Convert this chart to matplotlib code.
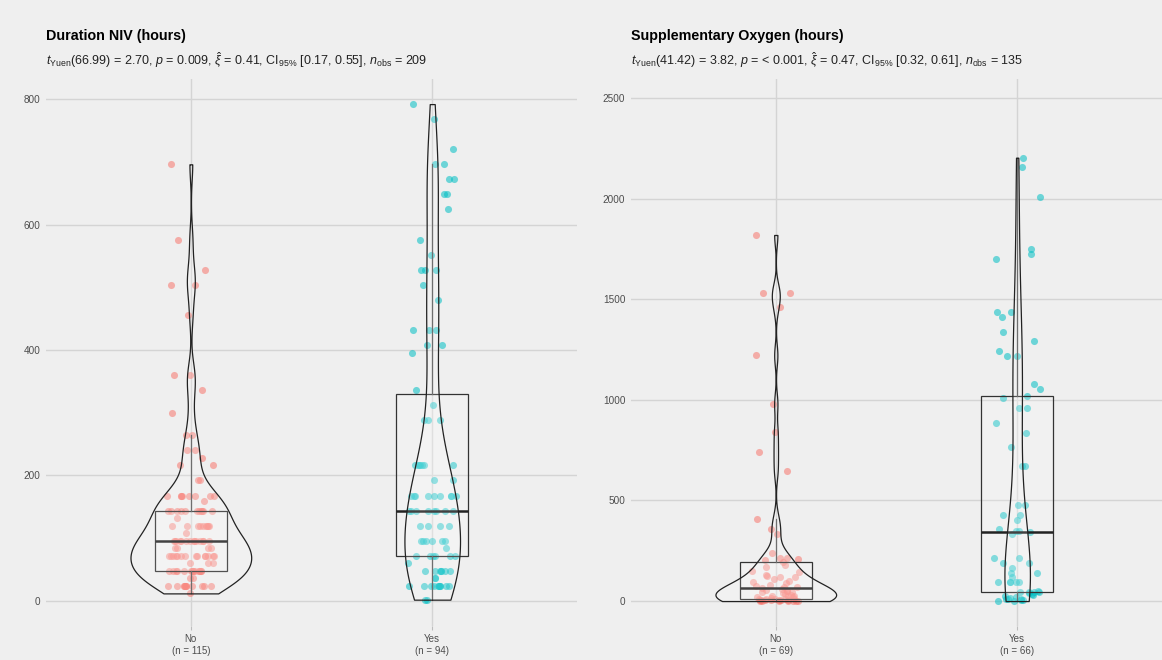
import numpy as np
import matplotlib.pyplot as plt

plt.rcParams['font.family'] = ['Liberation Sans', 'DejaVu Sans']
plt.rcParams['mathtext.fontset'] = 'custom'
plt.rcParams['mathtext.rm'] = 'Liberation Sans'
plt.rcParams['mathtext.it'] = 'Liberation Sans:italic'
plt.rcParams['mathtext.bf'] = 'Liberation Sans:bold'

groups = ['No', 'Yes']
colors = ['#F8766D', '#00BFC4']

# Duration NIV (hours)
niv_no = [696, 576, 528, 504, 504, 456, 360, 360, 336, 300, 264, 264,
          240, 240, 228, 216, 216, 192, 192,
          168, 168, 168, 168, 168, 168, 168, 168, 160,
          144, 144, 144, 144, 144, 144, 144, 144, 144, 144, 144, 132,
          120, 120, 120, 120, 120, 120, 120, 120, 120, 108,
          96, 96, 96, 96, 96, 96, 96, 96, 96, 96, 96, 96, 96, 96,
          84, 84, 84, 84,
          72, 72, 72, 72, 72, 72, 72, 72, 72, 72, 72, 72, 72, 72,
          60, 60, 60,
          48, 48, 48, 48, 48, 48, 48, 48, 48, 48, 48, 48, 48, 48, 48,
          36, 36,
          24, 24, 24, 24, 24, 24, 24, 24, 24, 24, 24, 24, 12]
niv_yes = [792, 768, 720, 696, 696, 672, 672, 648, 648, 624, 576, 552,
           528, 528, 528, 504, 480, 432, 432, 432, 408, 408, 396,
           336, 312, 288, 288, 288,
           216, 216, 216, 216, 216, 216, 216, 192, 192,
           168, 168, 168, 168, 168, 168, 168, 168, 168,
           144, 144, 144, 144, 144, 144, 144, 144,
           120, 120, 120, 120, 96, 96, 96, 96, 96, 96, 84,
           72, 72, 72, 72, 72, 72, 60,
           48, 48, 48, 48, 48, 48, 48, 36, 36,
           24, 24, 24, 24, 24, 24, 24, 24, 24, 24, 24, 2, 2]

# Supplementary Oxygen (hours)
oxy_no = [1819, 1532, 1532, 1460, 1221, 981, 838, 742, 648, 406, 358, 333,
          240, 216, 216, 210, 204, 195, 180, 168, 150, 144, 130, 124, 120, 120,
          110, 100, 96, 90, 80, 76, 72, 70, 64, 60, 56, 50, 48, 46, 44, 40,
          36, 30, 26, 24, 24, 20, 18, 14, 12, 10, 9, 8, 8, 6, 6, 5, 5, 4, 4,
          4, 2, 2, 2, 0, 0, 0, 0]
oxy_yes = [2203, 2156, 2010, 1748, 1725, 1700, 1435, 1435, 1411, 1339, 1292,
           1244, 1219, 1219, 1077, 1054, 1020, 1010, 958, 958, 885, 837, 765,
           669, 669, 477, 477, 429, 429, 404, 356, 350, 346, 342, 331,
           214, 214, 189, 189, 166, 141, 141, 118, 93, 93, 93, 93, 93,
           48, 46, 46, 45, 44, 40, 36, 28, 24, 20, 16, 12, 10, 8, 6, 4, 2, 0]

titles = ['Duration NIV (hours)', 'Supplementary Oxygen (hours)']
subtitles = [
    r'$t_{\mathrm{Yuen}}$(66.99) = 2.70, $p$ = 0.009, $\hat{\xi}$ = 0.41, '
    r'CI$_{95\%}$ [0.17, 0.55], $n_{\mathrm{obs}}$ = 209',
    r'$t_{\mathrm{Yuen}}$(41.42) = 3.82, $p$ = < 0.001, $\hat{\xi}$ = 0.47, '
    r'CI$_{95\%}$ [0.32, 0.61], $n_{\mathrm{obs}}$ = 135',
]
yticks = [[0, 200, 400, 600, 800], [0, 500, 1000, 1500, 2000, 2500]]
ylims = [(-40, 832), (-124, 2594)]


def kde(v):
    v = np.asarray(v, float)
    n = len(v)
    q1, q3 = np.percentile(v, [25, 75])
    bw = 0.9 * min(v.std(ddof=1), (q3 - q1) / 1.34) * n ** -0.2
    y = np.linspace(v.min(), v.max(), 512)
    d = np.exp(-0.5 * ((y[:, None] - v[None, :]) / bw) ** 2).sum(1)
    d = d / (n * bw * np.sqrt(2 * np.pi))
    return y, d


def panel(ax, data, title, subtitle, ticks, ylim):
    ax.set_facecolor('#EFEFEF')
    rng = np.random.default_rng(3)
    for i, (vals, col) in enumerate(zip(data, colors)):
        xs = i + 1 + rng.uniform(-0.1, 0.1, len(vals))
        ax.scatter(xs, vals, s=26, color=col, alpha=0.55, lw=0, zorder=2)

    ax.boxplot(data, positions=[1, 2], widths=0.3, whis=1.5, showfliers=False,
               showcaps=False, patch_artist=True,
               boxprops=dict(facecolor=(1, 1, 1, 0.15), edgecolor='#333333', lw=0.9),
               medianprops=dict(color='#222222', lw=1.8),
               whiskerprops=dict(color='#555555', lw=0.9), zorder=3)

    dens = [kde(v) for v in data]
    dmax = max(d.max() for _, d in dens)
    for i, (y, d) in enumerate(dens):
        w = d / dmax * 0.25
        ax.fill_betweenx(y, i + 1 - w, i + 1 + w, facecolor=(1, 1, 1, 0.15),
                         edgecolor='#222222', lw=0.9, zorder=4)

    ax.set_xlim(0.4, 2.6)
    ax.set_ylim(*ylim)
    ax.set_xticks([1, 2])
    ax.set_xticklabels([f'{g}\n(n = {len(v)})' for g, v in zip(groups, data)])
    ax.set_yticks(ticks)
    ax.grid(True, color='#D4D4D4', lw=1.0, zorder=0)
    ax.set_axisbelow(True)
    for s in ax.spines.values():
        s.set_visible(False)
    ax.tick_params(axis='y', length=0, labelsize=7.2, labelcolor='#4D4D4D', pad=4)
    ax.tick_params(axis='x', length=3, color='#BDBDBD', labelsize=7,
                   labelcolor='#4D4D4D', pad=3)
    ax.text(0, 1.078, title, transform=ax.transAxes, fontsize=10.3,
            fontweight='bold', ha='left', va='center')
    ax.text(0, 1.035, subtitle, transform=ax.transAxes, fontsize=9.0,
            color='#222222', ha='left', va='center')


fig = plt.figure(figsize=(11.62, 6.6), dpi=100, facecolor='#EFEFEF')
ax1 = fig.add_axes([0.0396, 0.0515, 0.457, 0.8288])
ax2 = fig.add_axes([0.543, 0.0515, 0.457, 0.8288])

panel(ax1, [niv_no, niv_yes], titles[0], subtitles[0], yticks[0], ylims[0])
panel(ax2, [oxy_no, oxy_yes], titles[1], subtitles[1], yticks[1], ylims[1])

fig.savefig('out.png', dpi=100, facecolor=fig.get_facecolor())
